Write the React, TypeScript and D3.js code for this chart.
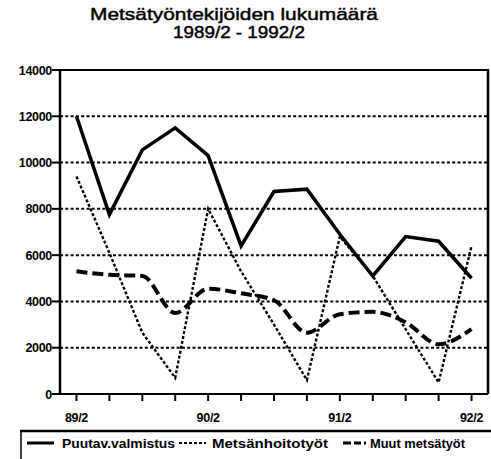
import React from "react";
import * as d3 from "d3";

const periods = ["89/2","89/3","89/4","90/1","90/2","90/3","90/4","91/1","91/2","91/3","91/4","92/1","92/2"];
const labelled = ["89/2","90/2","91/2","92/2"];
const puutav = [12000, 7750, 10550, 11500, 10300, 6400, 8750, 8850, 6900, 5100, 6800, 6600, 5000];
const metsanhoito = [9400, 6100, 2650, 700, 8000, 5300, 3000, 600, 6800, 5100, 2800, 500, 6400];
const muut = [5300, 5150, 5100, 3500, 4550, 4350, 4050, 2650, 3450, 3550, 3100, 2150, 2800];
const yTicks = [0, 2000, 4000, 6000, 8000, 10000, 12000, 14000];
const titleLines = ["Metsätyöntekijöiden lukumäärä", "1989/2 - 1992/2"];
const legendNames = ["Puutav.valmistus", "Metsänhoitotyöt", "Muut metsätyöt"];

export default function App() {
  const W = 491, H = 459;
  const L = 60, R = 488, T = 70, B = 394;
  const x = d3.scalePoint<string>().domain(periods).range([L, R]).padding(0.5);
  const y = d3.scaleLinear().domain([0, 14000]).range([B, T]);
  const font = "'Liberation Sans', Arial, sans-serif";

  const mk = (vals: number[], curve: any) =>
    d3.line<number>().x((_, i) => x(periods[i]) as number).y(v => y(v)).curve(curve)(vals) || "";

  return (
    <svg width={W} height={H} style={{ position: "absolute", left: 0, top: 0, background: "#fff" }}>
      <rect x={0} y={0} width={W} height={H} fill="#fff" />
      <text x={234} y={20} textAnchor="middle" fontFamily={font} fontSize={17} stroke="#000" strokeWidth={0.45} textLength={288} lengthAdjust="spacingAndGlyphs">{titleLines[0]}</text>
      <text x={239} y={38} textAnchor="middle" fontFamily={font} fontSize={17} stroke="#000" strokeWidth={0.45} textLength={132} lengthAdjust="spacingAndGlyphs">{titleLines[1]}</text>

      {yTicks.filter(t => t > 0 && t < 14000).map(t => (
        <line key={"g" + t} x1={L} x2={R} y1={y(t)} y2={y(t)} stroke="#000" strokeWidth={2} strokeDasharray="3,2.3" />
      ))}

      {/* frame */}
      <line x1={L} x2={R} y1={T} y2={T} stroke="#000" strokeWidth={2} />
      <line x1={R} x2={R} y1={T - 1} y2={B} stroke="#000" strokeWidth={2.5} />
      <line x1={L} x2={L} y1={T - 1} y2={B + 1} stroke="#000" strokeWidth={2.5} />
      <line x1={L} x2={R} y1={B} y2={B} stroke="#000" strokeWidth={2} />

      {yTicks.map(t => (
        <g key={"y" + t}>
          <line x1={L - 8} x2={L} y1={y(t)} y2={y(t)} stroke="#000" strokeWidth={2} />
          <text x={L - 8} y={y(t) + 4.5} textAnchor="end" fontFamily={font} fontWeight="bold" fontSize={12.5} letterSpacing={-0.3}>{t}</text>
        </g>
      ))}

      {periods.map(p => (
        <line key={"xt" + p} x1={x(p)} x2={x(p)} y1={B} y2={B + 7} stroke="#000" strokeWidth={2} />
      ))}
      {labelled.map(p => (
        <text key={"xl" + p} x={x(p)} y={422} textAnchor="middle" fontFamily={font} fontWeight="bold" fontSize={12.5} letterSpacing={-0.3}>{p}</text>
      ))}

      <path d={mk(metsanhoito, d3.curveLinear)} fill="none" stroke="#000" strokeWidth={2.4} strokeDasharray="3,2" />
      <path d={mk(muut, d3.curveMonotoneX)} fill="none" stroke="#000" strokeWidth={4} strokeDasharray="11,5" />
      <path d={mk(puutav, d3.curveLinear)} fill="none" stroke="#000" strokeWidth={3.5} strokeLinejoin="miter" />

      {/* legend */}
      <line x1={20} x2={W} y1={431} y2={431} stroke="#000" strokeWidth={2.5} />
      <line x1={21} x2={21} y1={430} y2={H} stroke="#000" strokeWidth={1.5} />
      <line x1={27} x2={54} y1={443} y2={443} stroke="#000" strokeWidth={3} />
      <text x={62} y={447.5} fontFamily={font} fontWeight="bold" fontSize={12.5} textLength={113} lengthAdjust="spacingAndGlyphs">{legendNames[0]}</text>
      <line x1={179} x2={206} y1={443} y2={443} stroke="#000" strokeWidth={2} strokeDasharray="3,2" />
      <text x={212} y={447.5} fontFamily={font} fontWeight="bold" fontSize={12.5} textLength={116} lengthAdjust="spacingAndGlyphs">{legendNames[1]}</text>
      <path d="M343,443 L351,443 M354,443 L361,443 M364,443 L366,443" stroke="#000" strokeWidth={3} />
      <text x={370} y={447.5} fontFamily={font} fontWeight="bold" fontSize={12.5} textLength={95} lengthAdjust="spacingAndGlyphs">{legendNames[2]}</text>
    </svg>
  );
}
